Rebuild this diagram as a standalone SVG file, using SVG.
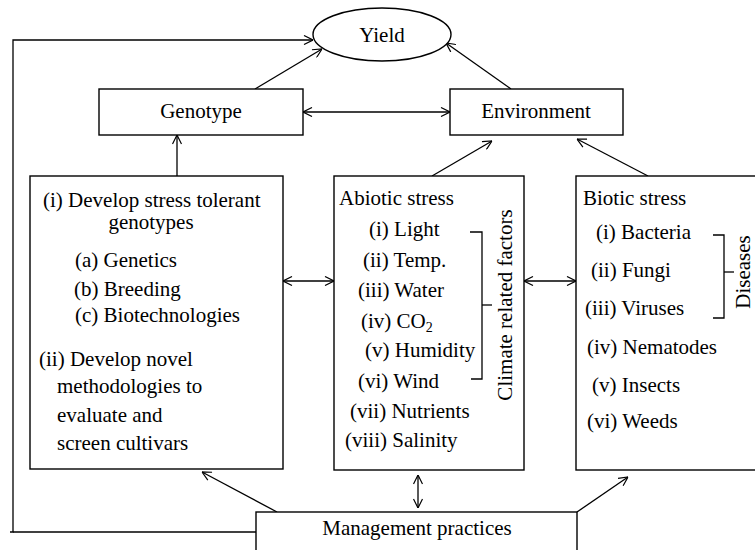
<svg xmlns="http://www.w3.org/2000/svg" width="755" height="550" viewBox="0 0 755 550">
<defs>
<marker id="ah" viewBox="0 0 10 10" refX="10" refY="5" markerWidth="10" markerHeight="10" markerUnits="userSpaceOnUse" orient="auto-start-reverse">
<path d="M1,0.5 L10,5 L1,9.5" fill="none" stroke="#000" stroke-width="1.2"/>
</marker>
<style>
.box{fill:#fff;stroke:#000;stroke-width:1.4}
.ln{fill:none;stroke:#000;stroke-width:1.3}
text{font-family:"Liberation Serif","Times New Roman",serif;font-size:21px;fill:#000}
.c{text-anchor:middle}
</style>
</defs>
<rect width="755" height="550" fill="#fff"/>
<g id="connectors">
<polyline class="ln" points="10,532 13,532 13,40 313,40" marker-end="url(#ah)"/>
<line class="ln" x1="13" y1="532" x2="256" y2="532"/>
<line class="ln" x1="255" y1="89" x2="322" y2="49" marker-end="url(#ah)"/>
<line class="ln" x1="511" y1="89" x2="446" y2="43" marker-end="url(#ah)"/>
<line class="ln" x1="303" y1="112" x2="450" y2="112" marker-start="url(#ah)" marker-end="url(#ah)"/>
<line class="ln" x1="177" y1="176" x2="177" y2="135" marker-end="url(#ah)"/>
<line class="ln" x1="432" y1="176" x2="492" y2="141" marker-end="url(#ah)"/>
<line class="ln" x1="648" y1="176" x2="577" y2="139" marker-end="url(#ah)"/>
<line class="ln" x1="283" y1="281" x2="334" y2="281" marker-start="url(#ah)" marker-end="url(#ah)"/>
<line class="ln" x1="524" y1="281" x2="576" y2="281" marker-start="url(#ah)" marker-end="url(#ah)"/>
<line class="ln" x1="418" y1="475" x2="418" y2="508" marker-start="url(#ah)" marker-end="url(#ah)"/>
<line class="ln" x1="277" y1="512" x2="202" y2="472" marker-end="url(#ah)"/>
<line class="ln" x1="577" y1="512" x2="628" y2="477" marker-end="url(#ah)"/>
</g>
<g id="yield">
<ellipse class="box" cx="382" cy="34.5" rx="69" ry="26.5"/>
<text class="c" x="382" y="42">Yield</text>
</g>
<g id="genotype">
<rect class="box" x="99" y="89" width="204" height="46"/>
<text class="c" x="201" y="118">Genotype</text>
</g>
<g id="environment">
<rect class="box" x="450" y="89" width="173" height="46"/>
<text class="c" x="536" y="118">Environment</text>
</g>
<g id="strategies">
<rect class="box" x="30" y="176" width="253" height="293"/>
<text x="43" y="207">(i) Develop stress tolerant</text>
<text class="c" x="151" y="229">genotypes</text>
<text x="75" y="267">(a) Genetics</text>
<text x="74" y="296">(b) Breeding</text>
<text x="75" y="322">(c) Biotechnologies</text>
<text x="39" y="366">(ii) Develop novel</text>
<text x="57" y="393">methodologies to</text>
<text x="57" y="422">evaluate and</text>
<text x="57" y="450">screen cultivars</text>
</g>
<g id="abiotic">
<rect class="box" x="334" y="176" width="190" height="294"/>
<text x="339" y="205">Abiotic stress</text>
<text x="369" y="236">(i) Light</text>
<text x="363" y="267">(ii) Temp.</text>
<text x="358" y="297">(iii) Water</text>
<text x="361" y="328">(iv) CO<tspan font-size="14" dy="4">2</tspan></text>
<text x="365" y="357">(v) Humidity</text>
<text x="358" y="388">(vi) Wind</text>
<text x="350" y="418">(vii) Nutrients</text>
<text x="345" y="447">(viii) Salinity</text>
<polyline class="ln" points="470,232 482,232 482,379 471,379"/>
<line class="ln" x1="482" y1="305" x2="492" y2="305"/>
<text class="c" transform="translate(512,305) rotate(-90)">Climate related factors</text>
</g>
<g id="biotic">
<rect class="box" x="576" y="176" width="190" height="294"/>
<text x="583" y="205">Biotic stress</text>
<text x="596" y="239">(i) Bacteria</text>
<text x="591" y="277">(ii) Fungi</text>
<text x="585" y="315">(iii) Viruses</text>
<text x="587" y="354">(iv) Nematodes</text>
<text x="592" y="392">(v) Insects</text>
<text x="587" y="428">(vi) Weeds</text>
<polyline class="ln" points="713,235 724,235 724,318 713,318"/>
<line class="ln" x1="724" y1="272" x2="734" y2="272"/>
<text class="c" transform="translate(750,272) rotate(-90)">Diseases</text>
</g>
<g id="management">
<rect class="box" x="256" y="512" width="321" height="50"/>
<text class="c" x="417" y="535">Management practices</text>
</g>
</svg>
